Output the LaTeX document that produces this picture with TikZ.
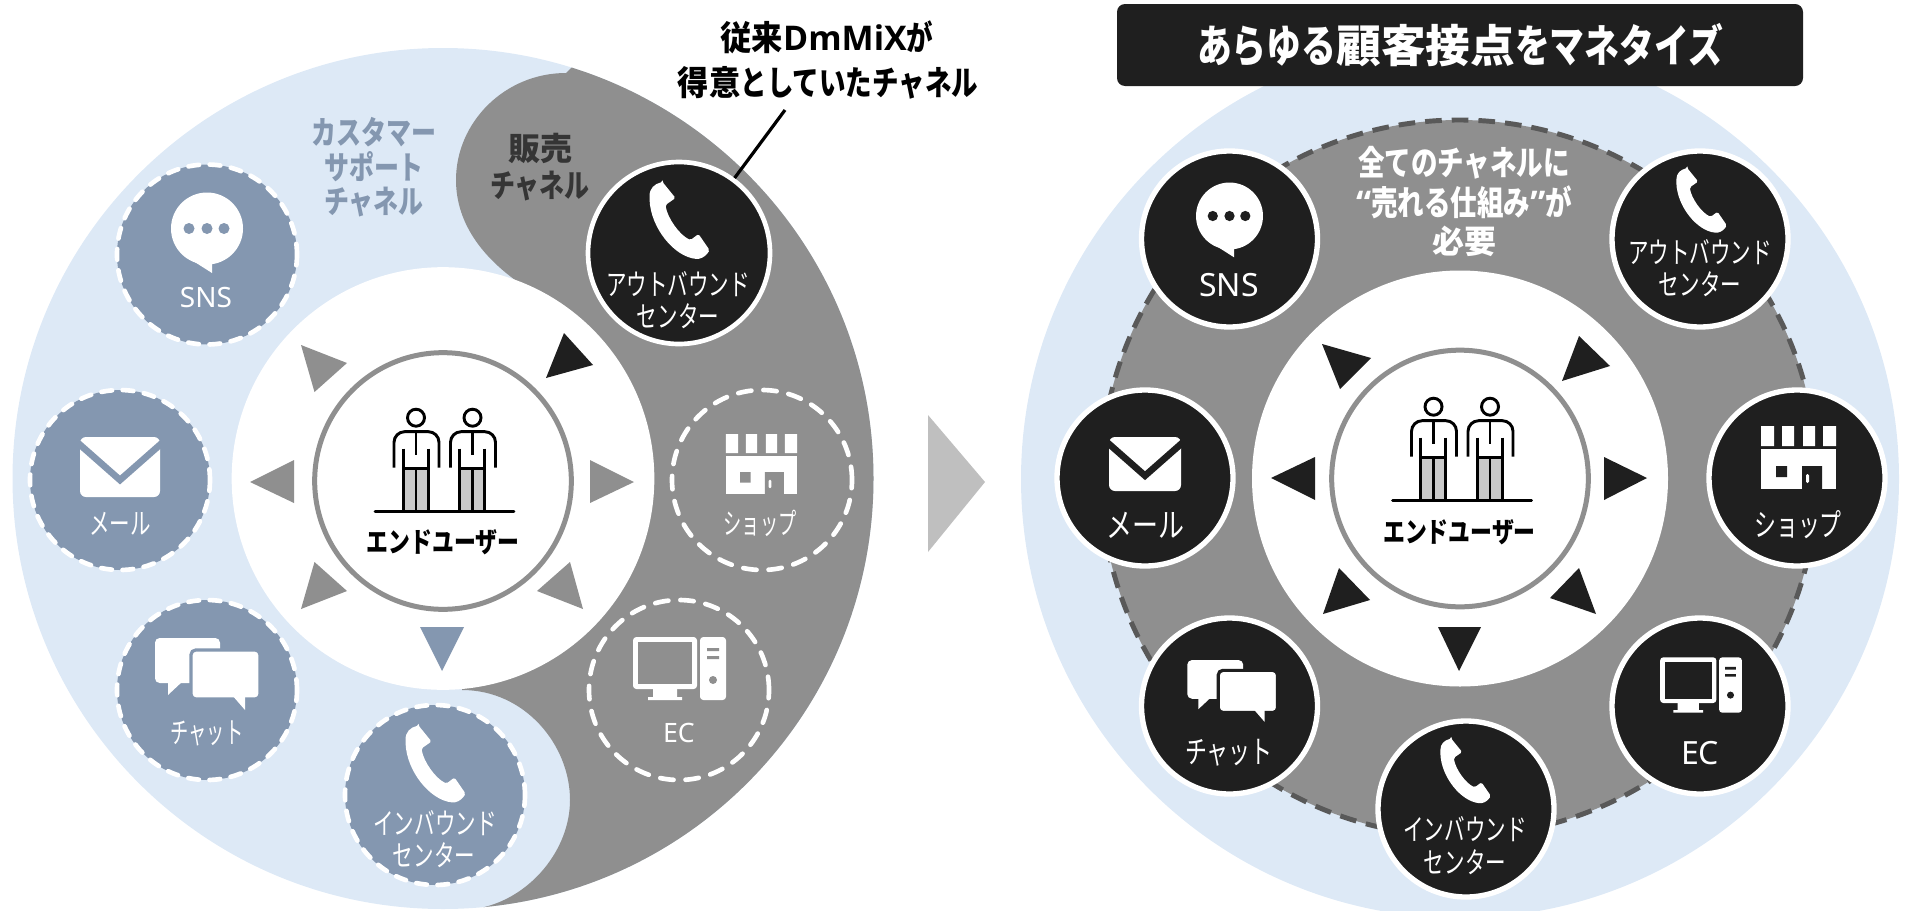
\documentclass[tikz,border=0pt]{standalone}
\usepackage{fontspec}
\newfontfamily\rk[FakeStretch=.70]{Noto Sans CJK JP}
\newfontfamily\rw[FakeStretch=.78]{Noto Sans CJK JP}
\newfontfamily\rn[FakeStretch=.62]{Noto Sans CJK JP}
\newfontfamily\bk[FakeStretch=.78]{Noto Sans CJK JP}
\newfontfamily\bj[FakeStretch=.92]{Noto Sans CJK JP}
\newfontfamily\bn{Noto Sans CJK JP}
\newfontfamily\la{Noto Sans}
\newfontfamily\lb{Open Sans}
\newcommand\fsz[1]{\fontsize{#1}{#1}\selectfont}
\definecolor{lblue}{HTML}{DDE9F6}
\definecolor{slate}{HTML}{8497B0}
\definecolor{gr}{HTML}{8F8F8F}
\definecolor{blk}{HTML}{1F1F1F}
\definecolor{dashgr}{HTML}{595959}
\definecolor{pants}{HTML}{C9C9C9}
\definecolor{chev}{HTML}{BFBFBF}
\tikzset{
  lab/.style={inner sep=0pt,outer sep=0pt,anchor=center,align=center,text=white},
  ringnode/.style={circle,draw=gr,line width=3.75pt,fill=white,minimum size=192.5pt,inner sep=0pt},
  slatedot/.style={circle,fill=slate,draw=white,line width=3.5pt,line cap=round,dash pattern=on 8pt off 8pt,minimum size=135pt,inner sep=0pt},
  hollowdot/.style={circle,draw=white,line width=3.5pt,line cap=round,dash pattern=on 10pt off 9pt,minimum size=135pt,inner sep=0pt},
  blackdotL/.style={circle,fill=blk,draw=white,line width=3.5pt,minimum size=136.5pt,inner sep=0pt},
  blackdotR/.style={circle,fill=blk,draw=white,line width=4pt,minimum size=132pt,inner sep=0pt},
}
\newcommand\icphone[3]{\begin{scope}[shift={(#1,#2)},scale=#3]
\fill[white,rounded corners=1.2pt] (-17,-38) -- (-4,-22) -- (-14,-15) .. controls (-12,-2) and (0,15) .. (11,20) -- (19,14) -- (30,30) .. controls (28,34) and (24,38) .. (18,39) .. controls (-5,37) and (-29,8) .. (-30,-22) .. controls (-30,-32) and (-25,-36) .. (-17,-38) -- cycle;
\end{scope}}
\newcommand\icbubble[4]{\begin{scope}[shift={(#1,#2)},scale=#3]
\fill[white] (0,0) circle[radius=36];
\fill[white] (-24,26) -- (5,44.5) -- (5,30) -- cycle;
\fill[#4] (-18,0) circle[radius=5.5] (0,0) circle[radius=5.5] (17,0) circle[radius=5.5];
\end{scope}}
\newcommand\icmail[4]{\begin{scope}[shift={(#1,#2)},scale=#3]
\fill[white,rounded corners=4.5pt] (-40,-30) rectangle (40,30);
\draw[#4,line width=5pt] (-42,-24) -- (0,13) -- (42,-24);
\end{scope}}
\newcommand\icchat[4]{\begin{scope}[shift={(#1,#2)},scale=#3]
\fill[white,rounded corners=3.5pt] (-52,-36) rectangle (13,9);
\fill[white] (-39,7) -- (-39,21) -- (-24,7) -- cycle;
\fill[white,draw=#4,line width=2.4pt,rounded corners=3.5pt] (-16,-24) rectangle (53,25);
\fill[white] (25,21) -- (38,36) -- (38,21) -- cycle;
\end{scope}}
\newcommand\icshop[4]{\begin{scope}[shift={(#1,#2)},scale=#3]
\fill[white] (-37.5,-31.5) rectangle (-24.5,-11.5) (-16.5,-31.5) rectangle (-4.5,-11.5) (4.5,-31.5) rectangle (16.5,-11.5) (24.5,-31.5) rectangle (37.5,-11.5);
\fill[white] (-37.5,-8.5) rectangle (37.5,31.5);
\fill[#4] (-22.5,8.5) rectangle (-11.5,19.5) (3.5,8.5) rectangle (23.5,31.5);
\fill[white,rounded corners=1pt] (7.5,16.5) rectangle (10.5,25.5);
\end{scope}}
\newcommand\icpc[4]{\begin{scope}[shift={(#1,#2)},scale=#3]
\fill[white,rounded corners=2.5pt] (-46.5,-31.5) rectangle (17.5,20.5);
\fill[#4] (-41.5,-26.5) rectangle (12.5,15.5);
\fill[white] (-26.5,20.5) rectangle (-2.5,28.5) (-31.5,28.5) rectangle (2.5,31.5);
\fill[white,rounded corners=2.5pt] (20.5,-31.5) rectangle (46.5,31.5);
\fill[#4] (27.5,-20.5) rectangle (39.5,-17.5) (27.5,-12.5) rectangle (39.5,-9.5) (33.5,11.5) circle[radius=4];
\end{scope}}
\newcommand\icfig[1]{\begin{scope}[shift={(#1,0)}]
\fill[pants] (-12.7,-43) rectangle (12.3,0);
\draw[black,line width=2.2pt] (0,-94) circle[radius=8.5];
\draw[black,line width=2.2pt,rounded corners=8pt] (-22,-44) -- (-22,-80) -- (23,-80) -- (23,-44);
\draw[black,line width=2.2pt] (0,-80) -- (0,-57) (-12.7,-63) -- (-12.7,0) (12.3,-63) -- (12.3,0) (-12.7,-43) -- (12.3,-43) (0,-43) -- (0,0);
\end{scope}}
\newcommand\icusers[2]{\begin{scope}[shift={(#1,#2)}]
\icfig{-28.5}\icfig{28}
\draw[black,line width=2.2pt,line cap=round] (-69.5,0) -- (69.5,0);
\end{scope}}
\begin{document}
\begin{tikzpicture}[x=0.75pt,y=-0.75pt]
\useasboundingbox (0,0) rectangle (1908,910);
\clip (0,0) rectangle (1908,910);
% ---------- left ----------
\fill[lblue] (443,478.5) circle[radius=430.5];
\begin{scope}
\clip (443,478.5) circle[radius=430.5];
\fill[gr] (600,40) -- (566,73) .. controls (505,73) and (456,122) .. (456,180) .. controls (456,225) and (485,262) .. (530,290) -- (500,500) -- (462,690) .. controls (525,690) and (570,745) .. (570,800) .. controls (570,850) and (530,898) .. (480,908) -- (480,925) -- (900,925) -- (900,40) -- cycle;
\end{scope}
\node[circle,fill=white,minimum size=317pt,inner sep=0pt] (Lwhite) at (443,478.5) {};
\node[ringnode] (Lring) at (443,481) {};
\icusers{444.5}{511.7}
\node[lab,text=black,font=\bk\bfseries\fsz{21}] (Lend) at (443,542) {エンドユーザー};
\fill[gr] (590,460) -- (634,482) -- (590,503) -- cycle;
\fill[gr] (294,460) -- (250,482) -- (294,503) -- cycle;
\fill[slate] (420,627) -- (464,627) -- (442,671) -- cycle;
\fill[gr] (314.5,562) -- (347,591) -- (301,609) -- cycle;
\fill[gr] (570,562) -- (537,591) -- (583,609) -- cycle;
\fill[gr] (301,345) -- (347,363) -- (314.5,392) -- cycle;
\fill[blk] (564,333) -- (593,365) -- (546,378) -- cycle;
\node[slatedot] (Lsns) at (207,254.5) {};
\node[slatedot] (Lmail) at (120,480) {};
\node[slatedot] (Lchat) at (207,690) {};
\node[slatedot] (Lin) at (435,795) {};
\node[hollowdot] (Lec) at (679,690) {};
\node[hollowdot] (Lshop) at (762,480) {};
\node[blackdotL] (Lout) at (679,253) {};
\icbubble{207}{228.5}{1}{slate}
\icmail{120}{467}{1}{slate}
\icchat{207}{674}{1}{slate}
\icphone{435.5}{763.5}{1}
\icpc{679.5}{668.5}{1}{gr}
\icshop{761.5}{464}{.95}{gr}
\icphone{679.5}{220}{1}
\node[lab,font=\la\fsz{21}] (tLsns) at (206,297) {SNS};
\node[lab,font=\rk\fsz{22}] (tLmail) at (120,524) {メール};
\node[lab,font=\rn\fsz{22}] (tLchat) at (207,733) {チャット};
\node[lab,font=\rk\fsz{22}] (tLin1) at (435,823) {インバウンド};
\node[lab,font=\rk\fsz{22}] (tLin2) at (434,855) {センター};
\node[lab,font=\la\fsz{20}] (tLec) at (679,733) {EC};
\node[lab,font=\rn\fsz{22}] (tLshop) at (760,523) {ショップ};
\node[lab,font=\rk\fsz{22}] (tLout1) at (678,284) {アウトバウンド};
\node[lab,font=\rk\fsz{22}] (tLout2) at (678,316) {センター};
\node[lab,text=slate,font=\bk\bfseries\fsz{24}] (tCs1) at (374,132) {カスタマー};
\node[lab,text=slate,font=\bk\bfseries\fsz{24}] (tCs2) at (374,167) {サポート};
\node[lab,text=slate,font=\bk\bfseries\fsz{24}] (tCs3) at (374,202) {チャネル};
\node[lab,text=blk!90,font=\bn\bfseries\fsz{24}] (tSa1) at (540,148) {販売};
\node[lab,text=blk!90,font=\bk\bfseries\fsz{24}] (tSa2) at (540,186) {チャネル};
\node[lab,text=black,font=\fsz{25.5}] (tTop1) at (827,37) {{\bj\bfseries 従来}{\lb\bfseries DmMiX}{\bk\bfseries が}};
\node[lab,text=black,font=\fsz{25.5}] (tTop2) at (828,83) {{\bj\bfseries 得意}{\bk\bfseries としていたチャネル}};
\coordinate (calloutstart) at (785,110);
\draw[black,line width=2.4pt] (calloutstart) -- (Lout);
% ---------- arrow ----------
\fill[chev] (928,415) -- (985,482) -- (928,552) -- cycle;
% ---------- right ----------
\fill[lblue] (1460,479) circle[radius=439];
\node[draw=none,fill=blk,rounded corners=6pt,minimum width=514.5pt,minimum height=61.5pt,inner sep=0pt] (Hdr) at (1460,45) {};
\node[lab,font=\fsz{33.5}] (tHdr) at (1460,45) {{\bk\bfseries あらゆる}{\bn\bfseries 顧客接点}{\bk\bfseries をマネタイズ}};
\fill[gr] (1459,478) circle[radius=358];
\draw[dashgr,line width=3.7pt,dash pattern=on 12.5pt off 7.5pt] (1459,478) circle[radius=358];
\node[circle,fill=white,minimum size=312pt,inner sep=0pt] (Rwhite) at (1460,478.5) {};
\node[ringnode] (Rring) at (1460,478.5) {};
\icusers{1462}{500.7}
\node[lab,text=black,font=\bk\bfseries\fsz{21}] (Rend) at (1459.5,532) {エンドユーザー};
\fill[blk] (1322,344) -- (1371,358) -- (1340,389) -- cycle;
\fill[blk] (1579,336) -- (1610,366) -- (1562,381) -- cycle;
\fill[blk] (1604,457) -- (1647,478) -- (1604,500) -- cycle;
\fill[blk] (1315,457) -- (1271,478) -- (1315,500) -- cycle;
\fill[blk] (1339,568) -- (1370,600) -- (1323,614) -- cycle;
\fill[blk] (1579,568) -- (1550,598) -- (1596,614) -- cycle;
\fill[blk] (1438,627) -- (1481,627) -- (1459,671) -- cycle;
\node[blackdotR] (Rsns) at (1229.5,239) {};
\node[blackdotR] (Rout) at (1700,239) {};
\node[blackdotR] (Rmail) at (1145,478) {};
\node[blackdotR] (Rshop) at (1797,478) {};
\node[blackdotR] (Rchat) at (1229.5,706) {};
\node[blackdotR] (Rec) at (1700,706) {};
\node[blackdotR] (Rin) at (1466,809) {};
\icbubble{1229.5}{216}{.93}{blk}
\icphone{1701.5}{200}{.84}
\icmail{1145}{464}{.9}{blk}
\icshop{1798.5}{457.5}{1}{blk}
\icchat{1232}{691}{.86}{blk}
\icpc{1701}{685}{.88}{blk}
\icphone{1465.5}{770.5}{.84}
\node[lab,font=\la\fsz{24}] (tRsns) at (1229,285) {SNS};
\node[lab,font=\rk\fsz{22}] (tRout1) at (1700,252) {アウトバウンド};
\node[lab,font=\rk\fsz{22}] (tRout2) at (1700,284) {センター};
\node[lab,font=\rw\fsz{25}] (tRmail) at (1145,525) {メール};
\node[lab,font=\rk\fsz{23.5}] (tRshop) at (1798,525) {ショップ};
\node[lab,font=\rk\fsz{23.5}] (tRchat) at (1229,753) {チャット};
\node[lab,font=\la\fsz{24}] (tRec) at (1700,753) {EC};
\node[lab,font=\rk\fsz{22}] (tRin1) at (1465,829) {インバウンド};
\node[lab,font=\rk\fsz{22}] (tRin2) at (1465,862) {センター};
\node[lab,font=\bk\bfseries\fsz{25.5}] (tAll1) at (1464,163) {全てのチャネルに};
\node[lab,font=\fsz{25.5}] (tAll2) at (1464,202) {{\lb\bfseries “}{\bk\bfseries 売れる仕組み}{\lb\bfseries ”}{\bk\bfseries が}};
\node[lab,font=\bn\bfseries\fsz{24}] (tAll3) at (1464,241) {必要};
\end{tikzpicture}
\end{document}
